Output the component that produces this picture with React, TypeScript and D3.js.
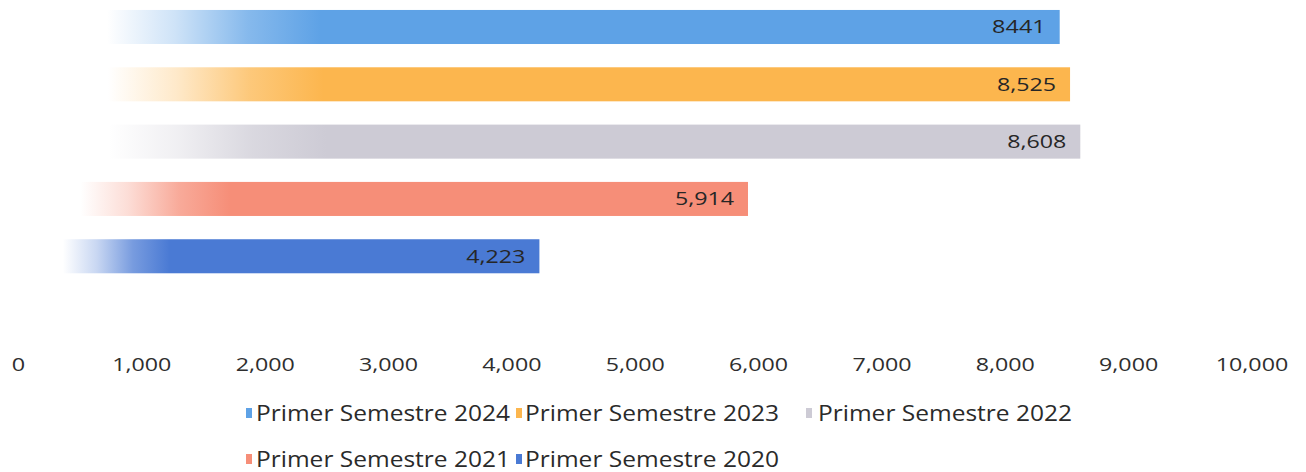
import React from "react";
import * as d3 from "d3";

const categories = ["Primer Semestre 2024", "Primer Semestre 2023", "Primer Semestre 2022", "Primer Semestre 2021", "Primer Semestre 2020"];
const values = [8441, 8525, 8608, 5914, 4223];
const valueLabels = ["8441", "8,525", "8,608", "5,914", "4,223"];
const colors = ["#5EA2E6", "#FCB64E", "#CDCBD5", "#F68E78", "#4A7AD4"];
const tickValues = [0, 1000, 2000, 3000, 4000, 5000, 6000, 7000, 8000, 9000, 10000];

const W = 1306;
const H = 472;

// approximate width of the wide display font used in the original
function numWidth(s: string) {
  let w = 0;
  for (const ch of s) w += ch === "," ? 5.5 : 13.4;
  return w;
}

export default function App() {
  const x = d3.scaleLinear().domain([0, 10000]).range([18.5, 1252]);
  const y = d3.scaleBand<string>().domain(categories).range([-1.5, 284.75]).paddingInner(0.406).paddingOuter(0.2);
  const fmt = d3.format(",");
  const legendPos = [
    { mx: 246, tx: 256, cy: 413 },
    { mx: 516, tx: 525, cy: 413 },
    { mx: 806, tx: 818, cy: 413 },
    { mx: 246, tx: 256, cy: 459 },
    { mx: 516, tx: 525, cy: 459 },
  ];
  return (
    <svg width={W} height={H} style={{ position: "absolute", left: 0, top: 0, background: "#fff" }}>
      <defs>
        {colors.map((c, i) => (
          <linearGradient key={i} id={`g${i}`} x1="0" x2="1" y1="0" y2="0">
            <stop offset="0" stopColor={c} stopOpacity={0} />
            <stop offset="0.085" stopColor={c} stopOpacity={0} />
            <stop offset="0.15" stopColor={c} stopOpacity={0.3} />
            <stop offset="0.22" stopColor={c} stopOpacity={0.75} />
            <stop offset="0.29" stopColor={c} stopOpacity={1} />
            <stop offset="1" stopColor={c} stopOpacity={1} />
          </linearGradient>
        ))}
      </defs>
      {categories.map((cat, i) => {
        const yy = y(cat)!;
        const bw = y.bandwidth();
        const tw = numWidth(valueLabels[i]);
        return (
          <g key={cat}>
            <rect x={x(0)} y={yy} width={x(values[i]) - x(0)} height={bw} fill={`url(#g${i})`} />
            <text
              x={x(values[i]) - 14 - tw}
              y={yy + bw / 2 + 6.5}
              fontFamily="'Open Sans', Lato, sans-serif"
              fontSize={18}
              fontWeight={500}
              fill="#262626"
              textLength={tw}
              lengthAdjust="spacingAndGlyphs"
            >
              {valueLabels[i]}
            </text>
          </g>
        );
      })}
      {tickValues.map((t) => {
        const s = fmt(t);
        const tw = numWidth(s);
        return (
          <text
            key={t}
            x={x(t) - tw / 2}
            y={371}
            fontFamily="'Open Sans', Lato, sans-serif"
            fontSize={18}
            fontWeight={500}
            fill="#2e2e2e"
            textLength={tw}
            lengthAdjust="spacingAndGlyphs"
          >
            {s}
          </text>
        );
      })}
      {categories.map((cat, i) => {
        const p = legendPos[i];
        return (
          <g key={"l" + cat}>
            <rect x={p.mx} y={p.cy - 5} width={6} height={10} fill={colors[i]} />
            <text
              x={p.tx}
              y={p.cy + 7.5}
              fontFamily="'Open Sans', Lato, sans-serif"
              fontWeight={500}
              fontSize={21}
              fill="#2a2a2a"
              textLength={254}
              lengthAdjust="spacingAndGlyphs"
            >
              {cat}
            </text>
          </g>
        );
      })}
    </svg>
  );
}
